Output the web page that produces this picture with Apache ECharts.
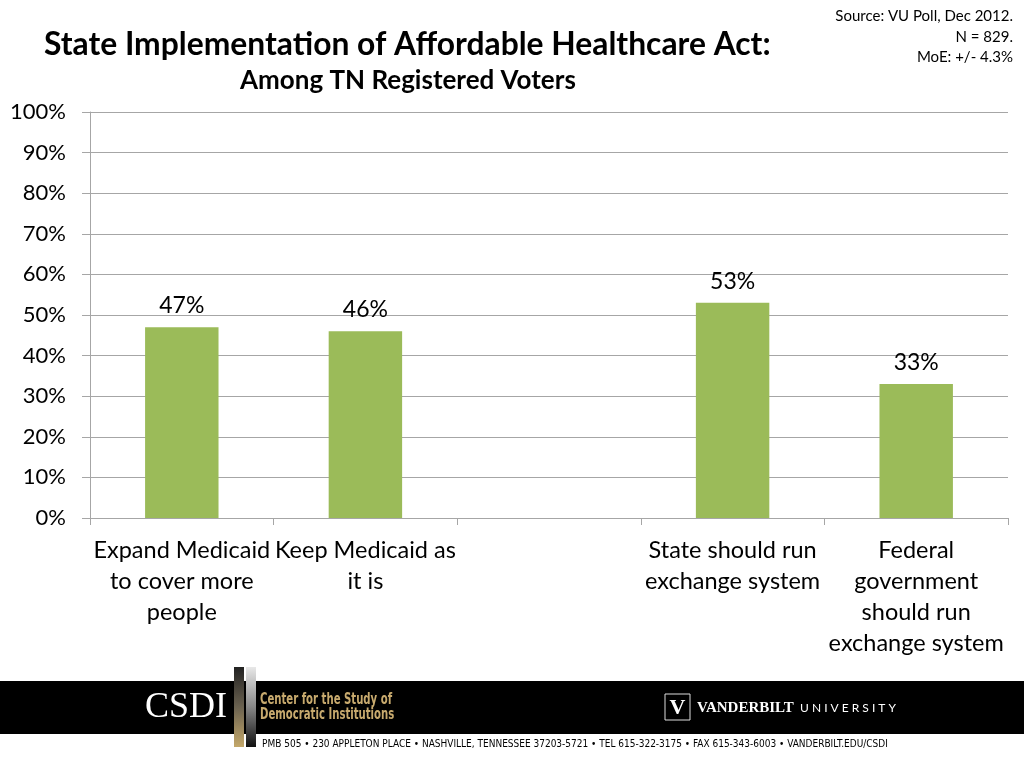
<!DOCTYPE html>
<html><head><meta charset="utf-8">
<script src="https://cdn.jsdelivr.net/npm/echarts@6/dist/echarts.min.js"></script>
<style>html,body{margin:0;padding:0;background:#fff}#c{width:1024px;height:768px}</style>
</head><body><div id="c"></div>
<script>
const categories = ['Expand Medicaid\nto cover more\npeople', 'Keep Medicaid as\nit is', '', 'State should run\nexchange system', 'Federal\ngovernment\nshould run\nexchange system'];
const values = [47, 46, null, 53, 33];
const yTicks = [0, 10, 20, 30, 40, 50, 60, 70, 80, 90, 100];
const titleText = 'State Implementation of Affordable Healthcare Act:';
const subtitleText = 'Among TN Registered Voters';
const sourceLines = ['Source: VU Poll, Dec 2012.', 'N = 829.', 'MoE: +/- 4.3%'];
const addressText = 'PMB 505 \u2022 230 APPLETON PLACE \u2022 NASHVILLE, TENNESSEE 37203-5721 \u2022 TEL 615-322-3175 \u2022 FAX 615-343-6003 \u2022 VANDERBILT.EDU/CSDI';

const FONT = 'Lato, "Open Sans", sans-serif';
const COND = '"Liberation Sans Narrow", "DejaVu Sans Condensed", sans-serif';
const chart = echarts.init(document.getElementById('c'));
chart.setOption({
  animation: false,
  grid: { left: 90, right: 16, top: 112, bottom: 250, containLabel: false },
  xAxis: {
    type: 'category', data: categories,
    axisLine: { lineStyle: { color: '#a6a6a6', width: 1 } },
    axisTick: { show: true, length: 7, lineStyle: { color: '#a6a6a6' }, alignWithLabel: false },
    axisLabel: { color: '#000', fontSize: 23.5, fontFamily: FONT, lineHeight: 31, margin: 17, interval: 0 }
  },
  yAxis: {
    type: 'value', min: yTicks[0], max: yTicks[yTicks.length - 1], interval: 10,
    axisLine: { show: true, lineStyle: { color: '#a6a6a6' } },
    axisTick: { show: true, length: 8, lineStyle: { color: '#a6a6a6' } },
    splitLine: { lineStyle: { color: '#a6a6a6', width: 1 } },
    axisLabel: { color: '#000', fontSize: 22, fontFamily: FONT, margin: 24, formatter: v => v + '%' }
  },
  series: [{
    type: 'bar', data: values, barWidth: '40%',
    itemStyle: { color: '#9bbb59' },
    label: { show: true, position: 'top', distance: 10, color: '#000', fontSize: 23, fontFamily: FONT, formatter: p => p.value + '%' }
  }],
  graphic: [
    { type: 'text', x: 44, y: 45, style: { text: titleText, font: 'bold 31.8px ' + FONT, fill: '#000', verticalAlign: 'middle' } },
    { type: 'text', x: 240, y: 81, style: { text: subtitleText, font: 'bold 26px ' + FONT, fill: '#000', verticalAlign: 'middle' } },
    { type: 'text', x: 1013, y: 16, style: { text: sourceLines[0], font: '15px ' + FONT, fill: '#000', align: 'right', verticalAlign: 'middle' } },
    { type: 'text', x: 1013, y: 37, style: { text: sourceLines[1], font: '15px ' + FONT, fill: '#000', align: 'right', verticalAlign: 'middle' } },
    { type: 'text', x: 1013, y: 57, style: { text: sourceLines[2], font: '15px ' + FONT, fill: '#000', align: 'right', verticalAlign: 'middle' } },
    { type: 'rect', shape: { x: 0, y: 681, width: 1024, height: 53 }, style: { fill: '#000' } },
    { type: 'rect', shape: { x: 234, y: 667, width: 10, height: 80 }, style: { fill: new echarts.graphic.LinearGradient(0, 0, 0, 1, [{ offset: 0, color: '#222' }, { offset: 0.5, color: '#6b6250' }, { offset: 1, color: '#c4a86a' }]) } },
    { type: 'rect', shape: { x: 246, y: 667, width: 10, height: 80 }, style: { fill: new echarts.graphic.LinearGradient(0, 0, 0, 1, [{ offset: 0, color: '#e8e8e8' }, { offset: 0.5, color: '#888' }, { offset: 1, color: '#111' }]) } },
    { type: 'text', x: 145, y: 708, style: { text: 'CSDI', font: '36px "Liberation Serif", "DejaVu Serif", serif', fill: '#fff', verticalAlign: 'middle' } },
    { type: 'text', x: 260, y: 700, scaleX: 0.75, originX: 0, style: { text: 'Center for the Study of', font: 'bold 15px ' + COND, fill: '#c8aa6e', verticalAlign: 'middle' } },
    { type: 'text', x: 260, y: 715, scaleX: 0.75, originX: 0, style: { text: 'Democratic Institutions', font: 'bold 15px ' + COND, fill: '#c8aa6e', verticalAlign: 'middle' } },
    { type: 'rect', shape: { x: 665, y: 694, width: 25, height: 26 }, style: { fill: 'none', stroke: '#ddd', lineWidth: 1 } },
    { type: 'text', x: 677.5, y: 708, style: { text: 'V', font: 'bold 22px "Liberation Serif", serif', fill: '#fff', align: 'center', verticalAlign: 'middle' } },
    { type: 'text', x: 697, y: 708, style: { text: 'VANDERBILT', font: 'bold 15px "Liberation Serif", serif', fill: '#fff', verticalAlign: 'middle' } },
    { type: 'text', x: 800, y: 708, style: { text: 'U N I V E R S I T Y', font: '12px ' + FONT, fill: '#fff', verticalAlign: 'middle' } },
    { type: 'text', x: 262, y: 744, style: { text: addressText, font: '10px ' + COND, fill: '#000', verticalAlign: 'middle' } }
  ]
});
</script></body></html>
